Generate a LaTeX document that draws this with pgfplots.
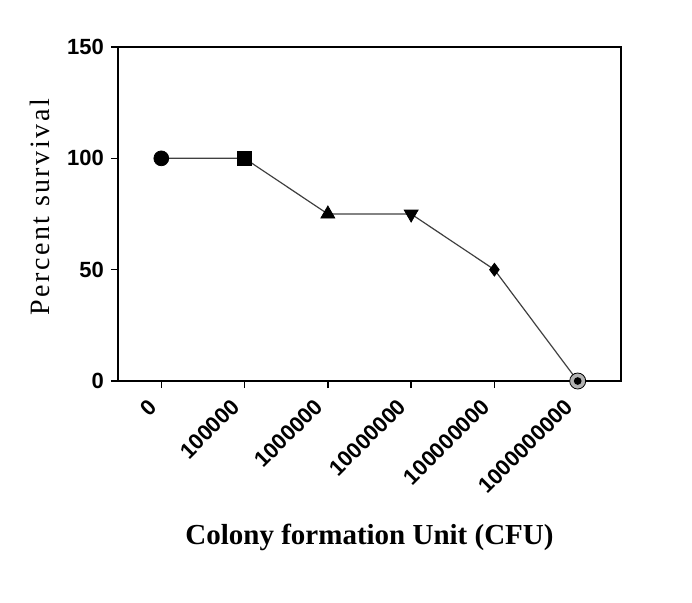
\documentclass[border=0pt]{standalone}
\usepackage{fontspec}
\setmainfont{Liberation Serif}
\setsansfont{Liberation Sans}
\usepackage{pgfplots}
\pgfplotsset{compat=1.18}

\begin{document}
\begin{tikzpicture}
    \begin{axis}[
            name=ax, at={(0,0)}, anchor=south west,
            width=251.5pt, height=167pt,
            scale only axis,
            xmin=-0.52, xmax=5.52,
            ymin=0, ymax=150,
            xtick={0,1,2,3,4,5},
            xticklabels={0,100000,1000000,10000000,100000000,1000000000},
            ytick={0,50,100,150},
            axis line style={line width=1pt},
            major tick style={line width=0.8pt, black},
            tick align=outside,
            major tick length=3.5pt,
            xtick pos=bottom, ytick pos=left,
            /pgf/number format/assume math mode=true,
            tick label style={font=\fontsize{11}{12}\selectfont\sffamily\bfseries},
            x tick label style={xshift=-2pt, yshift=-5pt, rotate=45, anchor=east},
            xlabel={Colony formation Unit (CFU)},
            ylabel={Percent survival},
            xlabel style={font=\fontsize{14.5}{16}\selectfont\bfseries,
                at={(axis description cs:0.5,0)}, anchor=center, yshift=-78pt},
            ylabel style={font=\fontsize{14}{16}\selectfont\addfontfeature{LetterSpace=9},
                at={(axis description cs:0,0.52)}, anchor=center, yshift=39pt},
            clip=false,
        ]
        % connecting line
        \addplot[line width=0.6pt, color=black!75, mark=none]
        coordinates {(0,100) (1,100) (2,75) (3,75) (4,50) (5,0)};

        \addplot[only marks, mark=*, mark size=3.7pt, black] coordinates {(0,100)};
        \addplot[only marks, mark=square*, mark size=3.5pt, black] coordinates {(1,100)};
        \addplot[only marks, mark=triangle*, mark size=4pt, black] coordinates {(2,75)};
        \addplot[only marks, mark=triangle*, mark size=4pt, black,
            mark options={rotate=180}] coordinates {(3,75)};
        \addplot[only marks, mark=diamond*, mark size=3.2pt, black] coordinates {(4,50)};
        \addplot[only marks, mark=*, mark size=4pt,
            mark options={draw=none, fill=black!30}] coordinates {(5,0)};
        \addplot[only marks, mark=*, mark size=1.7pt, black] coordinates {(5,0)};
    \end{axis}
    \useasboundingbox (-59pt,-110.5pt) rectangle (287pt,190.5pt);
\end{tikzpicture}
\end{document}
